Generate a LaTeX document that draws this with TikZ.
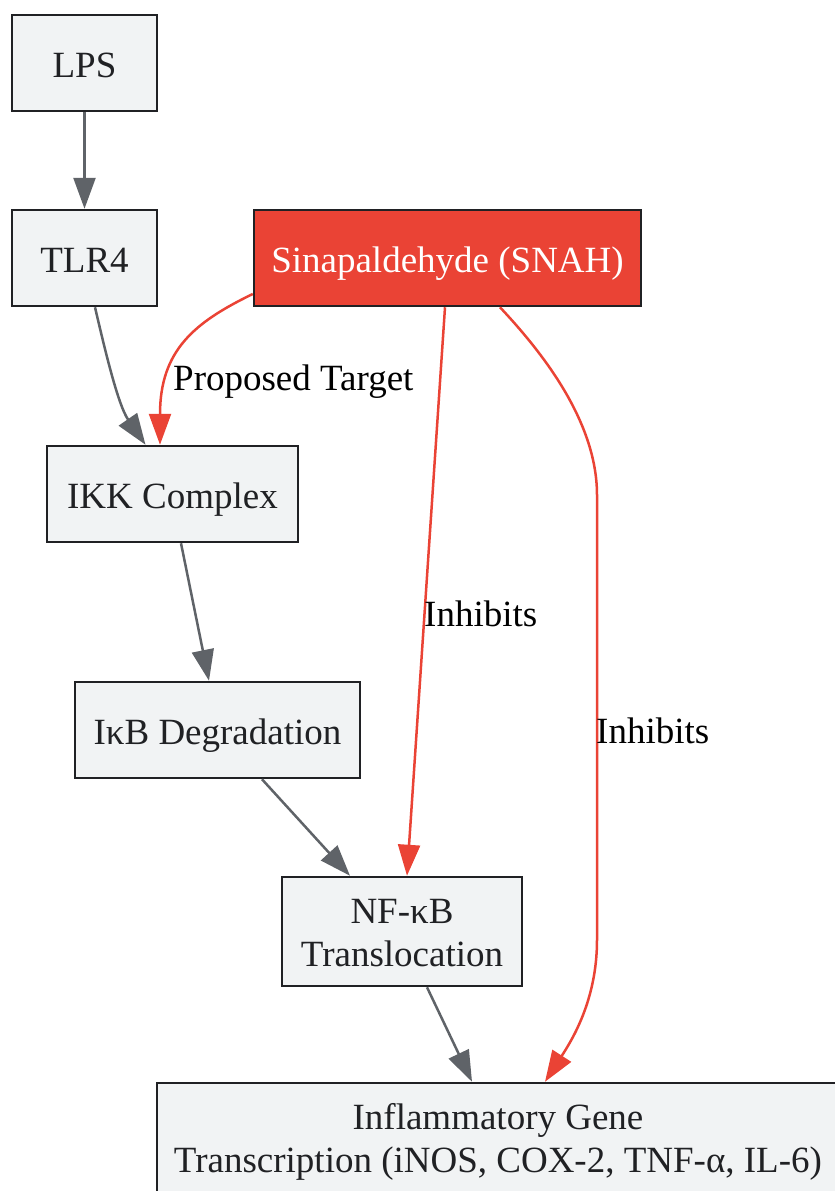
\documentclass[tikz,border=0pt]{standalone}
\usepackage{fontspec}
\setmainfont{Liberation Serif}
\usetikzlibrary{arrows.meta,calc}
\definecolor{boxfill}{HTML}{F1F3F4}
\definecolor{boxdraw}{HTML}{202124}
\definecolor{edgegray}{HTML}{5F6368}
\definecolor{snahred}{HTML}{EA4335}
\newcommand\tSt{\rule{0pt}{36pt}}
\newcommand\bSt{\rule[-9pt]{0pt}{9pt}}
\tikzset{
  stepbox/.style={draw=boxdraw, line width=2.5pt, fill=boxfill, inner sep=0pt, align=center, text=boxdraw, font=\fontsize{37}{43}\selectfont},
  oneline/.style={text height=38pt, text depth=9pt},
  grayedge/.style={draw=edgegray, line width=2.5pt, -{Triangle[length=31pt,width=22pt]}},
  rededge/.style={draw=snahred, line width=2.5pt, -{Triangle[length=31pt,width=22pt]}},
  elabel/.style={anchor=base west, inner sep=0pt, font=\fontsize{37}{43}\selectfont, text=black},
}
\begin{document}
\begin{tikzpicture}[x=1pt,y=-1pt]
\useasboundingbox (0,0) rectangle (835,1191);
\node[stepbox, oneline, minimum width=145pt, minimum height=96pt] (lps) at (84.5,63) {LPS};
\node[stepbox, oneline, minimum width=145pt, minimum height=96pt] (tlr4) at (84.5,258) {TLR4};
\node[stepbox, oneline, fill=snahred, text=white, minimum width=387pt, minimum height=96pt] (snah) at (447.5,258) {Sinapaldehyde (SNAH)};
\node[stepbox, oneline, minimum width=251pt, minimum height=96pt] (ikk) at (172.5,494) {IKK Complex};
\node[stepbox, oneline, minimum width=285pt, minimum height=96pt] (ikb) at (217.5,730) {IκB Degradation};
\node[stepbox, minimum width=240pt, minimum height=109pt] (nfkb) at (402,931.5) {\tSt NF-κB\\Translocation\bSt};
\node[stepbox, minimum width=682pt, minimum height=109pt] (gene) at (498,1137.5) {\tSt Inflammatory Gene\\Transcription (iNOS, COX-2, TNF-α, IL-6)\bSt};

\draw[grayedge] (lps.south) -- (tlr4.north);
\draw[grayedge] ($(tlr4.south)+(10.5,0)$) .. controls (105,350) and (118,405) .. ($(ikk.north)+(-27,0)$);
\draw[grayedge] ($(ikk.south)+(8.5,0)$) -- ($(ikb.north)+(-8.5,0)$);
\draw[grayedge] ($(ikb.south)+(44.5,0)$) -- ($(nfkb.north)+(-52,0)$);
\draw[grayedge] ($(nfkb.south)+(25,0)$) -- ($(gene.north)+(-26,0)$);

\draw[rededge] ($(snah.west)+(0,36)$) .. controls (195,322) and (160,350) .. ($(ikk.north)+(-12.5,0)$);
\draw[rededge] ($(snah.south)+(-2.5,0)$) -- ($(nfkb.north)+(5,0)$);
\coordinate (r1) at (597,495);
\coordinate (r2) at (597,940);
\draw[rededge] ($(snah.south)+(52.5,0)$) .. controls (540,350) and (597,420) .. (r1) -- (r2) .. controls (597,1000) and (572,1040) .. ($(gene.north)+(47,0)$);

\node[elabel] (l1) at (173,390) {Proposed Target};
\node[elabel] (l2) at (424,626) {Inhibits};
\node[elabel] (l3) at (596,743) {Inhibits};
\end{tikzpicture}
\end{document}
